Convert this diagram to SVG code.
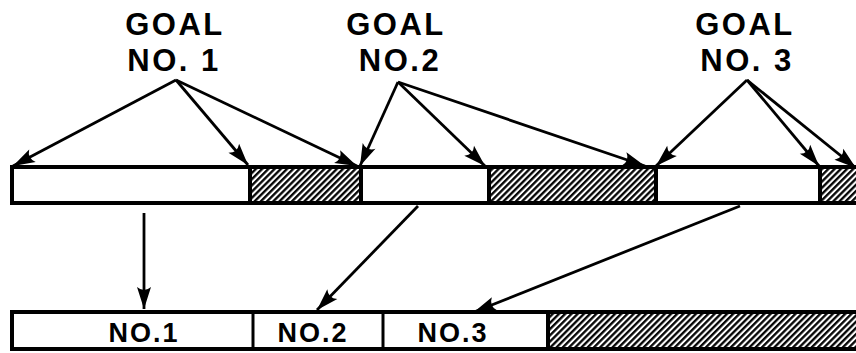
<svg xmlns="http://www.w3.org/2000/svg" width="856" height="353" viewBox="0 0 856 353">
  <defs>
    <style>
      .lbl { font-family: "Liberation Sans", Arial, sans-serif; font-weight: bold; fill: #000; text-anchor: middle; }
      .goal { font-size: 31px; letter-spacing: 2.5px; }
      .slot { font-size: 27px; letter-spacing: 2px; }
      .box { fill: #fff; stroke: #000; stroke-width: 4; }
      .hatch { fill: url(#hatch); stroke: #000; stroke-width: 4; }
      .conn { fill: none; stroke: #000; stroke-width: 2.8; marker-end: url(#head); }
    </style>
    <pattern id="hatch" patternUnits="userSpaceOnUse" width="4.4" height="8" patternTransform="rotate(45)">
      <rect width="4.4" height="8" fill="#fff"/>
      <line x1="1.2" y1="0" x2="1.2" y2="8" stroke="#000" stroke-width="2.3"/>
    </pattern>
    <marker id="head" markerUnits="userSpaceOnUse" markerWidth="26" markerHeight="18" viewBox="-23 -9 25 18" refX="0" refY="0" orient="auto">
      <path d="M0,0 L-22,-7 Q-16,0 -22,7 Z" fill="#000"/>
    </marker>
  </defs>

  <!-- upper strip: allotted time per goal, with unused (hatched) remainder -->
  <g id="strip-top">
    <rect class="box" x="12" y="167" width="850" height="36"/>
    <rect class="hatch" x="250" y="167" width="111" height="36"/>
    <rect class="hatch" x="489" y="167" width="167" height="36"/>
    <rect class="hatch" x="820" y="167" width="42" height="36"/>
  </g>

  <!-- lower strip: packed segments -->
  <g id="strip-bottom">
    <rect class="box" x="12" y="312" width="850" height="37"/>
    <line x1="253" y1="312" x2="253" y2="349" stroke="#000" stroke-width="3"/>
    <line x1="383" y1="312" x2="383" y2="349" stroke="#000" stroke-width="3"/>
    <rect class="hatch" x="548" y="312" width="314" height="37"/>
    <text class="lbl slot" x="144" y="342">NO.1</text>
    <text class="lbl slot" x="313" y="342">NO.2</text>
    <text class="lbl slot" x="453" y="342">NO.3</text>
  </g>

  <g id="goal-1">
    <text class="lbl goal" x="175" y="35">GOAL</text>
    <text class="lbl goal" x="174" y="71">NO. 1</text>
  </g>
  <g id="goal-2">
    <text class="lbl goal" x="396" y="35">GOAL</text>
    <text class="lbl goal" x="400" y="71">NO.2</text>
  </g>
  <g id="goal-3">
    <text class="lbl goal" x="745" y="35">GOAL</text>
    <text class="lbl goal" x="747" y="71">NO. 3</text>
  </g>

  <g id="connectors">
    <!-- goal 1 -->
    <line class="conn" x1="176" y1="80" x2="13" y2="166"/>
    <line class="conn" x1="176" y1="80" x2="248" y2="165"/>
    <line class="conn" x1="176" y1="80" x2="357" y2="166"/>
    <!-- goal 2 -->
    <line class="conn" x1="398" y1="82" x2="360" y2="166"/>
    <line class="conn" x1="398" y1="82" x2="485" y2="166"/>
    <line class="conn" x1="398" y1="82" x2="645" y2="166"/>
    <!-- goal 3 -->
    <line class="conn" x1="747" y1="80" x2="656" y2="166"/>
    <line class="conn" x1="747" y1="80" x2="819" y2="166"/>
    <line class="conn" x1="747" y1="80" x2="856" y2="168"/>
    <!-- packing into lower strip -->
    <line class="conn" x1="144" y1="213" x2="144" y2="309"/>
    <line class="conn" x1="418" y1="206" x2="317" y2="310"/>
    <line class="conn" x1="740" y1="206" x2="474" y2="312"/>
  </g>
</svg>
